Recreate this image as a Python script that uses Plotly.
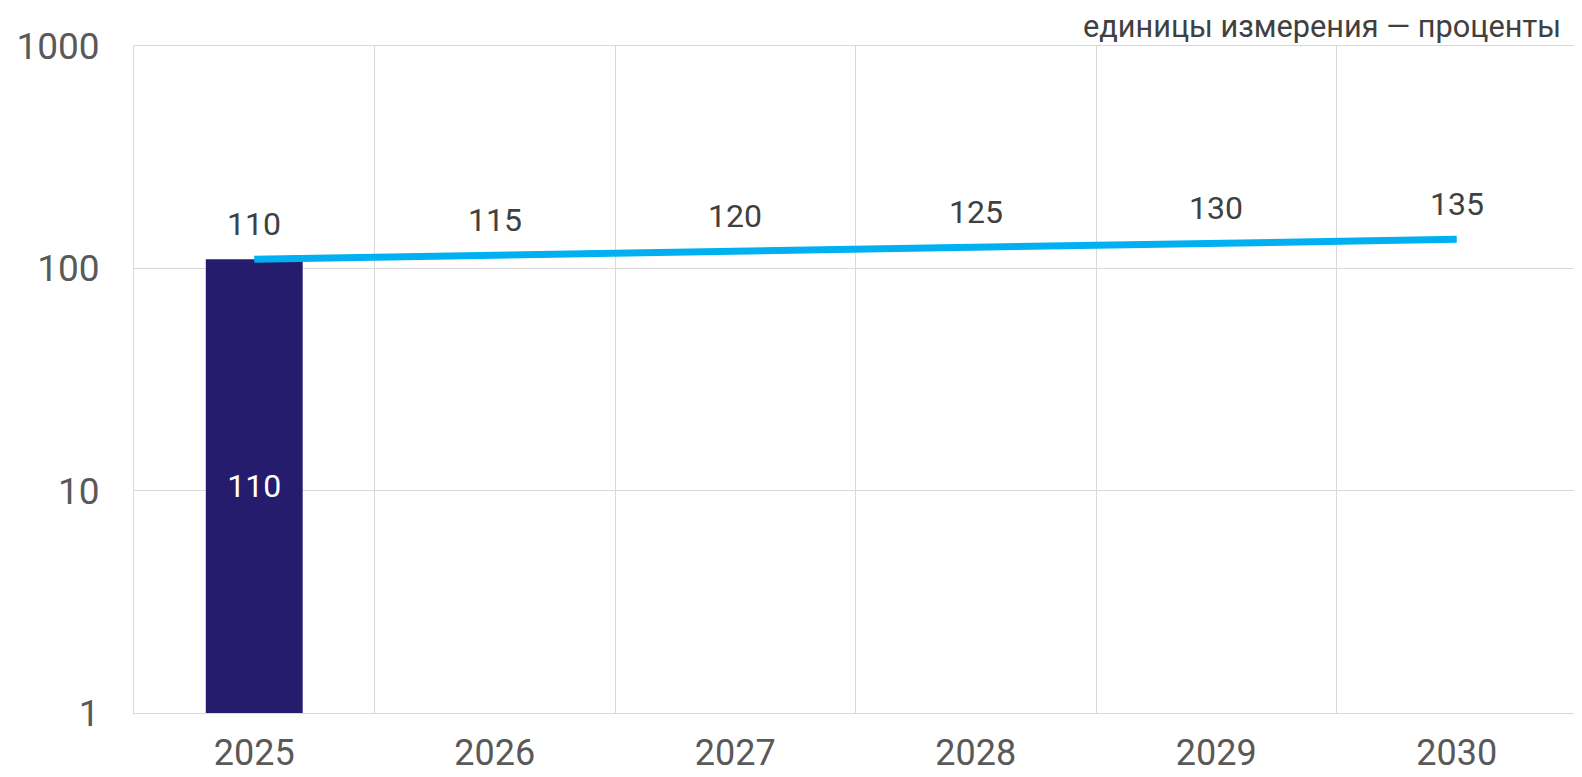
import math
import plotly.graph_objects as go

years = ["2025", "2026", "2027", "2028", "2029", "2030"]
bar_years = ["2025"]
bar_values = [110]
line_values = [110, 115, 120, 125, 130, 135]
y_tickvals = [1, 10, 100, 1000]
y_ticktext = ["1", "10", "100", "1000"]
unit_text = "единицы измерения — проценты"

FONT = "Roboto"
GRID = "#D9D9D9"
TICK = "#595959"
LABEL = "#404040"

# page body has an 8px default margin; size the figure to fit the window
PAGE_OFF = 8

fig = go.Figure()
fig.add_trace(go.Bar(
    x=bar_years, y=bar_values,
    marker=dict(color="#261C6E", line=dict(width=0)),
    width=0.403,
    text=[str(v) for v in bar_values],
    textposition="inside", insidetextanchor="middle",
    textfont=dict(family=FONT, size=32, color="white"),
    showlegend=False, hoverinfo="skip",
))
fig.add_trace(go.Scatter(
    x=years, y=line_values, mode="lines",
    line=dict(color="#00B0F0", width=7),
    showlegend=False, hoverinfo="skip",
))
for xv, yv in zip(years, line_values):
    fig.add_annotation(x=years.index(xv), y=math.log10(yv), yref="y", xref="x", text=str(yv),
                       showarrow=False, yanchor="middle", yshift=35,
                       font=dict(family=FONT, size=32, color=LABEL))

fig.add_annotation(xref="paper", yref="paper", x=1, y=1, xanchor="right", yanchor="bottom",
                   xshift=-14, yshift=0, text=unit_text, showarrow=False,
                   font=dict(family=FONT, size=30.7, color=LABEL))

fig.update_layout(
    width=1582 - PAGE_OFF, height=777 - PAGE_OFF,
    margin=dict(l=134 - PAGE_OFF, r=5, t=46 - PAGE_OFF, b=64),
    paper_bgcolor="white", plot_bgcolor="white",
    font=dict(family=FONT),
    bargap=0.597,
)
fig.update_xaxes(
    type="category", tickson="boundaries",
    showgrid=True, gridcolor=GRID, gridwidth=1,
    showline=True, linecolor=GRID, mirror=True,
    ticks="", ticklabelstandoff=8, automargin=False,
    tickfont=dict(family=FONT, size=36, color=TICK),
    range=[-0.5, 5.5],
)
fig.update_yaxes(
    type="log", range=[0, 3],
    tickvals=y_tickvals, ticktext=y_ticktext,
    showgrid=True, gridcolor=GRID, gridwidth=1,
    showline=True, linecolor=GRID, mirror=True,
    ticks="", ticklabelstandoff=26, zeroline=False, automargin=False,
    tickfont=dict(family=FONT, size=37, color=TICK),
)

fig.write_html("out.html")
